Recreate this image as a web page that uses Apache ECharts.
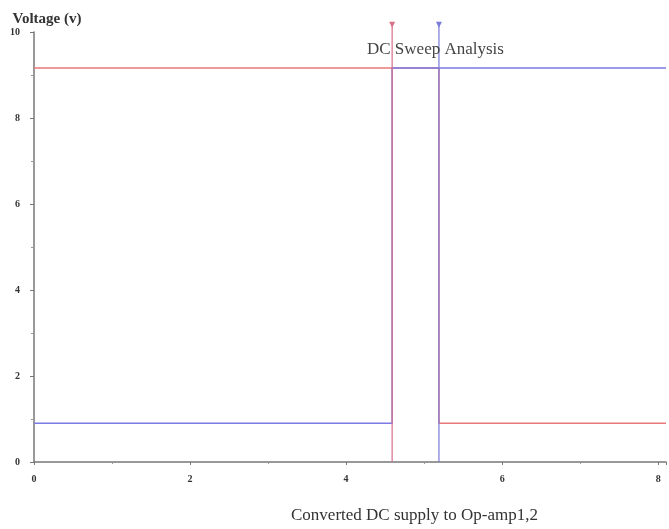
<!DOCTYPE html>
<html><head><meta charset="utf-8">
<script src="https://cdn.jsdelivr.net/npm/echarts@6/dist/echarts.min.js"></script>
<style>html,body{margin:0;padding:0;background:#fff}#c{width:669px;height:529px}</style>
</head><body><div id="c"></div>
<script>
const redX = [0, 5.19, 5.19, 8.1];
const redY = [9.16, 9.16, 0.9, 0.9];
const blueX = [0, 4.59, 4.59, 8.1];
const blueY = [0.9, 0.9, 9.16, 9.16];
const redCursorX = 4.59;
const blueCursorX = 5.19;
const cursorTop = 10.17;
const xTicks = [0, 2, 4, 6, 8];
const yTicks = [0, 2, 4, 6, 8, 10];

const serif = 'Liberation Serif';
const pairs = (xs, ys) => xs.map((x, i) => [x, ys[i]]);
const cursor = (x, color) => ({
  type: 'line', clip: false, z: 4, animation: false,
  lineStyle: { color, width: 1.2 }, itemStyle: { color },
  data: [
    { value: [x, 0], symbol: 'none' },
    { value: [x, cursorTop], symbol: 'triangle', symbolRotate: 180, symbolSize: 6 }
  ]
});

const chart = echarts.init(document.getElementById('c'));
chart.setOption({
  animation: false,
  title: { text: 'DC Sweep Analysis', left: 362, top: 36,
    textStyle: { fontFamily: serif, fontSize: 17, fontWeight: 'normal', color: '#444' } },
  grid: { left: 34, right: 0, top: 32, bottom: 67 },
  xAxis: {
    type: 'value', min: 0, max: 8.1, interval: 2,
    name: 'Converted DC supply to Op-amp1,2', nameLocation: 'middle', nameGap: 45,
    nameTextStyle: { fontFamily: serif, fontSize: 17, color: '#333', padding: [0, 0, 0, 129] },
    axisLine: { lineStyle: { color: '#777', width: 1.5 } },
    axisTick: { show: true, length: 3, lineStyle: { color: '#777' } },
    minorTick: { show: true, splitNumber: 2, length: 2, lineStyle: { color: '#999' } },
    splitLine: { show: false },
    axisLabel: { fontFamily: serif, fontWeight: 'bold', fontSize: 10, color: '#333', margin: 12,
      formatter: v => xTicks.includes(v) ? String(v) : '' }
  },
  yAxis: {
    type: 'value', min: 0, max: 10, interval: 2,
    name: 'Voltage (v)', nameLocation: 'end', nameGap: 5,
    nameTextStyle: { fontFamily: serif, fontWeight: 'bold', fontSize: 15, color: '#333', padding: [0, 0, 0, 26] },
    axisLine: { show: true, lineStyle: { color: '#777', width: 1.5 } },
    axisTick: { show: true, length: 4, lineStyle: { color: '#777' } },
    minorTick: { show: true, splitNumber: 2, length: 3, lineStyle: { color: '#999' } },
    splitLine: { show: false },
    axisLabel: { fontFamily: serif, fontWeight: 'bold', fontSize: 10, color: '#333', margin: 14,
      formatter: v => yTicks.includes(v) ? String(v) : '' }
  },
  series: [
    { type: 'line', data: pairs(redX, redY), showSymbol: false, z: 2,
      lineStyle: { color: '#e8787a', width: 1.5 } },
    { type: 'line', data: pairs(blueX, blueY), showSymbol: false, z: 3,
      lineStyle: { color: '#7b7be6', width: 1.5 } },
    cursor(redCursorX, '#d8708a'),
    cursor(blueCursorX, '#7a7ad8')
  ]
});
</script></body></html>
